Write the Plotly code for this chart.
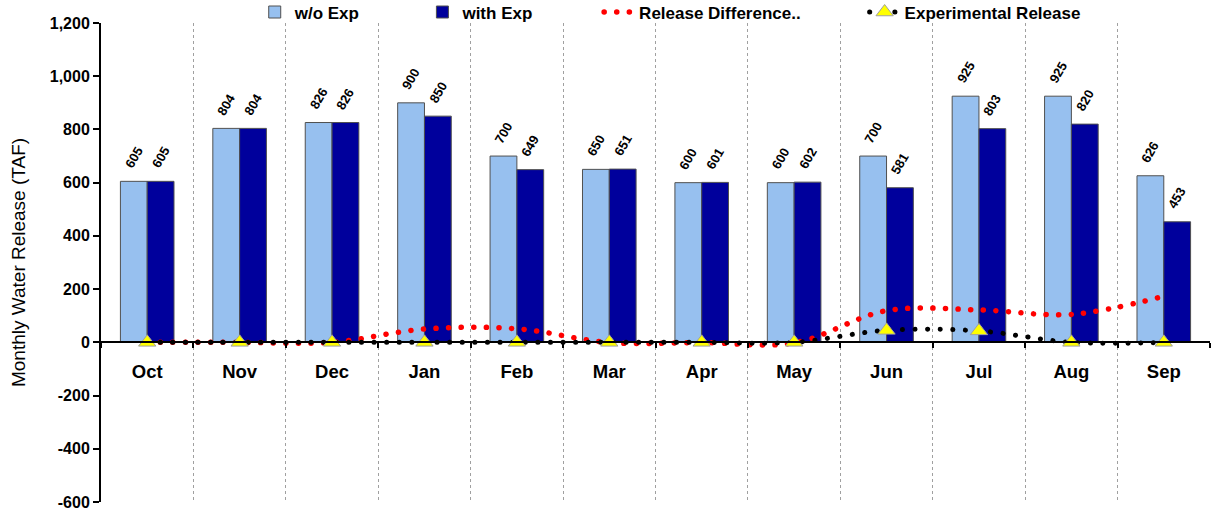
import plotly.graph_objects as go

months = ["Oct", "Nov", "Dec", "Jan", "Feb", "Mar", "Apr", "May", "Jun", "Jul", "Aug", "Sep"]
without_exp = [605, 804, 826, 900, 700, 650, 600, 600, 700, 925, 925, 626]
with_exp = [605, 804, 826, 850, 649, 651, 601, 602, 581, 803, 820, 453]
release_diff = [0, 0, 0, 50, 51, -1, -1, -2, 119, 122, 105, 173]
exp_release = [0, 0, 0, 0, 0, 0, 0, 0, 45, 43, 0, 0]
y_ticks = [-600, -400, -200, 0, 200, 400, 600, 800, 1000, 1200]
y_tick_labels = ["-600", "-400", "-200", "0", "200", "400", "600", "800", "1,000", "1,200"]

FONT = "Liberation Sans, Arial, sans-serif"
LIGHT = "#97C0EF"
DARK = "#00009C"

label_font = dict(family=FONT, size=13, color="black", weight="bold")

fig = go.Figure()
fig.add_trace(go.Bar(
    x=months, y=without_exp, name="w/o Exp",
    marker=dict(color=LIGHT, line=dict(color="#505050", width=1)),
    legend="legend",
))
fig.add_trace(go.Bar(
    x=months, y=with_exp, name="with Exp",
    marker=dict(color=DARK, line=dict(color="#505050", width=1)),
    legend="legend2",
))
fig.add_trace(go.Scatter(
    x=months, y=release_diff, name="Release Difference..", mode="lines",
    line=dict(color="#FF0000", width=5.5, dash="0.1px,12.5px", shape="spline", smoothing=1),
    legend="legend3",
))
fig.add_trace(go.Scatter(
    x=months, y=exp_release, name="Experimental Release", mode="lines+markers",
    line=dict(color="black", width=5, dash="0.1px,12.5px", shape="spline", smoothing=1),
    marker=dict(symbol="triangle-up", size=15, color="#FFFF00", line=dict(color="#A0A0A0", width=1)),
    legend="legend4",
))

# rotated value labels above each bar
BAR_OFFSET = 13.4
for m, a, b in zip(months, without_exp, with_exp):
    for val, sh in ((a, -BAR_OFFSET), (b, BAR_OFFSET)):
        fig.add_annotation(
            x=m, y=val, text=str(val), showarrow=False, textangle=-60,
            xanchor="center", yanchor="bottom", xshift=sh, yshift=8,
            font=label_font,
        )

legend_font = dict(family=FONT, size=17, color="black", weight="bold")
def leg(xpx):
    return dict(x=(xpx - 101) / 1111, y=1.022, xanchor="left", yanchor="middle",
                orientation="h", font=legend_font, bgcolor="rgba(255,255,255,0)",
                borderwidth=0, itemwidth=30)

fig.update_layout(
    width=1212, height=514,
    margin=dict(l=101, r=2, t=23, b=12, autoexpand=False),
    plot_bgcolor="white", paper_bgcolor="white",
    barmode="group", bargap=0.42, bargroupgap=0,
    showlegend=True,
    legend=leg(255), legend2=leg(423), legend3=leg(600), legend4=leg(866),
    font=dict(family=FONT, color="black"),
    xaxis=dict(
        type="category", anchor="free", position=1 / 3,
        range=[-0.5, len(months) - 0.5], autorange=False,
        showline=True, linecolor="black", linewidth=2,
        ticks="outside", ticklen=5, tickcolor="black", tickwidth=2,
        tickson="boundaries",
        showgrid=True, gridcolor="#A0A0A0", griddash="dot", gridwidth=1,
        tickfont=dict(family=FONT, size=18.5, color="black", weight="bold"),
        ticklabelstandoff=12,
        zeroline=False,
    ),
    yaxis=dict(
        range=[-600, 1200], autorange=False, tickvals=y_ticks, ticktext=y_tick_labels,
        showline=True, linecolor="black", linewidth=2,
        ticks="outside", ticklen=6, tickcolor="black", tickwidth=2,
        showgrid=False, zeroline=False,
        tickfont=dict(family=FONT, size=16, color="black", weight="bold"),
        title=dict(text="Monthly Water Release (TAF)", font=dict(family=FONT, size=19, color="black"), standoff=19),
    ),
)

post = """
document.body.style.margin = '0';
document.body.style.padding = '0';
document.querySelectorAll('.scatterlayer .js-line, .legendlines path').forEach(function(p){
  p.style.strokeLinecap = 'round';
});
"""
fig.write_html("out.html", post_script=post, config={"displayModeBar": False})
